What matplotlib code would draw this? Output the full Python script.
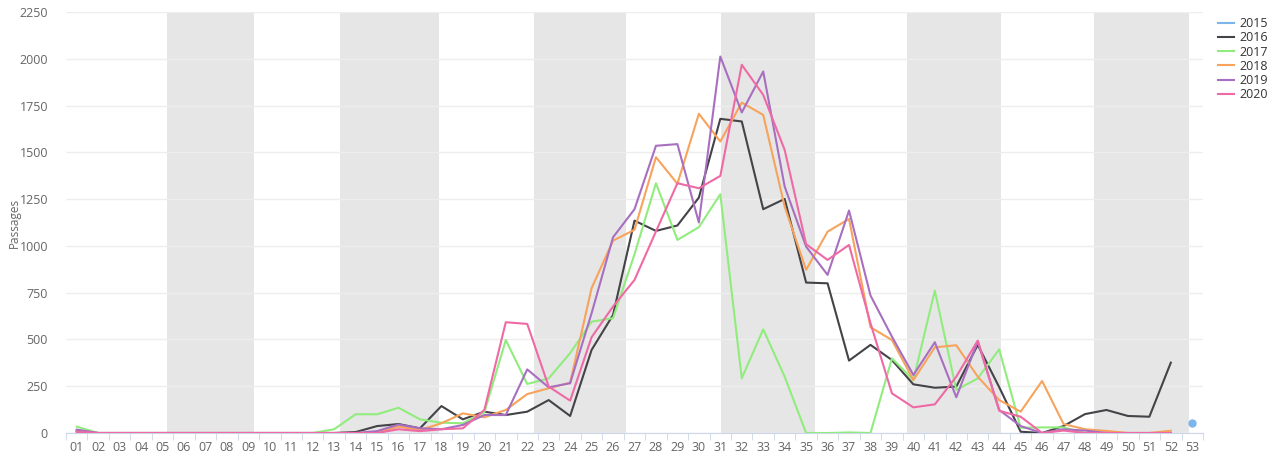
import numpy as np
import matplotlib
matplotlib.use("Agg")
from matplotlib import pyplot as plt
from matplotlib.lines import Line2D

# =============================================================================
# Data (weekly passages per year)
# =============================================================================
weeks = ["{:02d}".format(w) for w in range(1, 54)]

y2015 = [None] * 52 + [52]
y2016 = [10, 0, 0, 0, 0, 0, 0, 0, 0, 0, 0, 0, 0, 5, 37, 48, 25, 144, 73, 114,
         96, 114, 176, 91, 444, 631, 1135, 1080, 1109, 1258, 1679, 1665, 1196,
         1251, 804, 800, 387, 471, 390, 260, 242, 248, 471, 245, 7, 0, 37, 101,
         123, 91, 87, 376, None]
y2017 = [34, 0, 0, 0, 0, 0, 0, 0, 0, 0, 0, 0, 20, 100, 100, 135, 73, 55, 52,
         110, 497, 262, 292, 427, 595, 614, 955, 1335, 1032, 1100, 1276, 292,
         554, 301, 0, 0, 3, 0, 399, 283, 761, 230, 292, 447, 28, 30, 30, 0, 0,
         0, 0, 0, None]
y2018 = [15, 0, 0, 0, 0, 0, 0, 0, 0, 0, 0, 0, 0, 0, 3, 34, 16, 52, 105, 84,
         123, 208, 239, 269, 774, 1028, 1086, 1474, 1332, 1706, 1558, 1766,
         1700, 1210, 872, 1076, 1144, 565, 497, 283, 458, 469, 301, 176, 114,
         278, 48, 20, 11, 0, 0, 12, None]
y2019 = [18, 0, 0, 0, 0, 0, 0, 0, 0, 0, 0, 0, 0, 0, 10, 45, 25, 20, 43, 96,
         96, 340, 244, 266, 640, 1046, 1196, 1535, 1544, 1125, 2012, 1713,
         1932, 1317, 996, 845, 1189, 735, 515, 310, 485, 191, 490, 123, 37, 0,
         20, 13, 0, 0, 0, 0, None]
y2020 = [5, 0, 0, 0, 0, 0, 0, 0, 0, 0, 0, 0, 0, 0, 0, 20, 10, 20, 25, 123,
         592, 583, 248, 173, 512, 676, 818, 1077, 1335, 1308, 1374, 1968, 1807,
         1513, 1009, 925, 1005, 587, 212, 137, 153, 301, 494, 119, 87, 0, 13,
         0, 0, 0, 0, 0, None]

years = ["2015", "2016", "2017", "2018", "2019", "2020"]
series = [y2015, y2016, y2017, y2018, y2019, y2020]
colors = ["#7cb5ec", "#434348", "#90ed7d", "#f7a35c", "#a86fc0", "#ef6aa5"]

# shaded months (in week-axis units)
bands = [(5.23, 9.25), (13.26, 17.9), (22.31, 26.61), (31.04, 35.42),
         (39.7, 44.09), (48.44, 52.83)]

# =============================================================================
# Plot
# =============================================================================
plt.rcParams['font.family'] = ['Open Sans', 'DejaVu Sans']

fig = plt.figure(figsize=(12.77, 4.55), dpi=100)
ax = fig.add_axes([66 / 1277, 22 / 455, 1137 / 1277, 421 / 455])

x = np.arange(1, 54)
for lo, hi in bands:
    ax.axvspan(lo, hi, color='#e6e6e6', lw=0, zorder=0)

handles = []
for yr, vals, c in zip(years, series, colors):
    v = np.array([np.nan if a is None else a for a in vals], dtype=float)
    if np.sum(~np.isnan(v)) == 1:
        ax.plot(x, v, color=c, lw=1.5, marker='o', ms=5, zorder=3)
    else:
        ax.plot(x, v, color=c, lw=1.5, zorder=3)
    handles.append(Line2D([], [], color=c, lw=1.5, label=yr))

ax.set_xlim(0.5, 53.5)
ax.set_ylim(0, 2250)
ax.set_yticks(np.arange(0, 2251, 250))
ax.set_xticks(x)
ax.set_xticklabels(weeks)
ax.set_xticks(np.arange(0.5, 54, 1), minor=True)
ax.tick_params(axis='x', which='major', length=0, labelsize=9,
               colors='#666666', pad=6)
ax.tick_params(axis='x', which='minor', length=5, color='#ccd6eb')
ax.tick_params(axis='y', length=0, labelsize=9, colors='#666666', pad=13)
ax.grid(axis='y', color='#eeeeee', lw=1, zorder=1)
ax.set_axisbelow(True)
for s in ['left', 'right', 'top']:
    ax.spines[s].set_visible(False)
ax.spines['bottom'].set_color('#ccd6eb')
ax.set_ylabel("Passages", color='#666666', fontsize=8.5)
ax.yaxis.set_label_coords(-45 / 1137, 0.5)

ax.legend(handles=handles, loc='upper left',
          bbox_to_anchor=(1218 / 1277, 1 - 17 / 455),
          bbox_transform=fig.transFigure, frameon=False, fontsize=9,
          borderpad=0, borderaxespad=0, handlelength=1.3,
          handletextpad=0.4, labelspacing=0.1, labelcolor='#333333')

fig.savefig("out.png", dpi=100)
